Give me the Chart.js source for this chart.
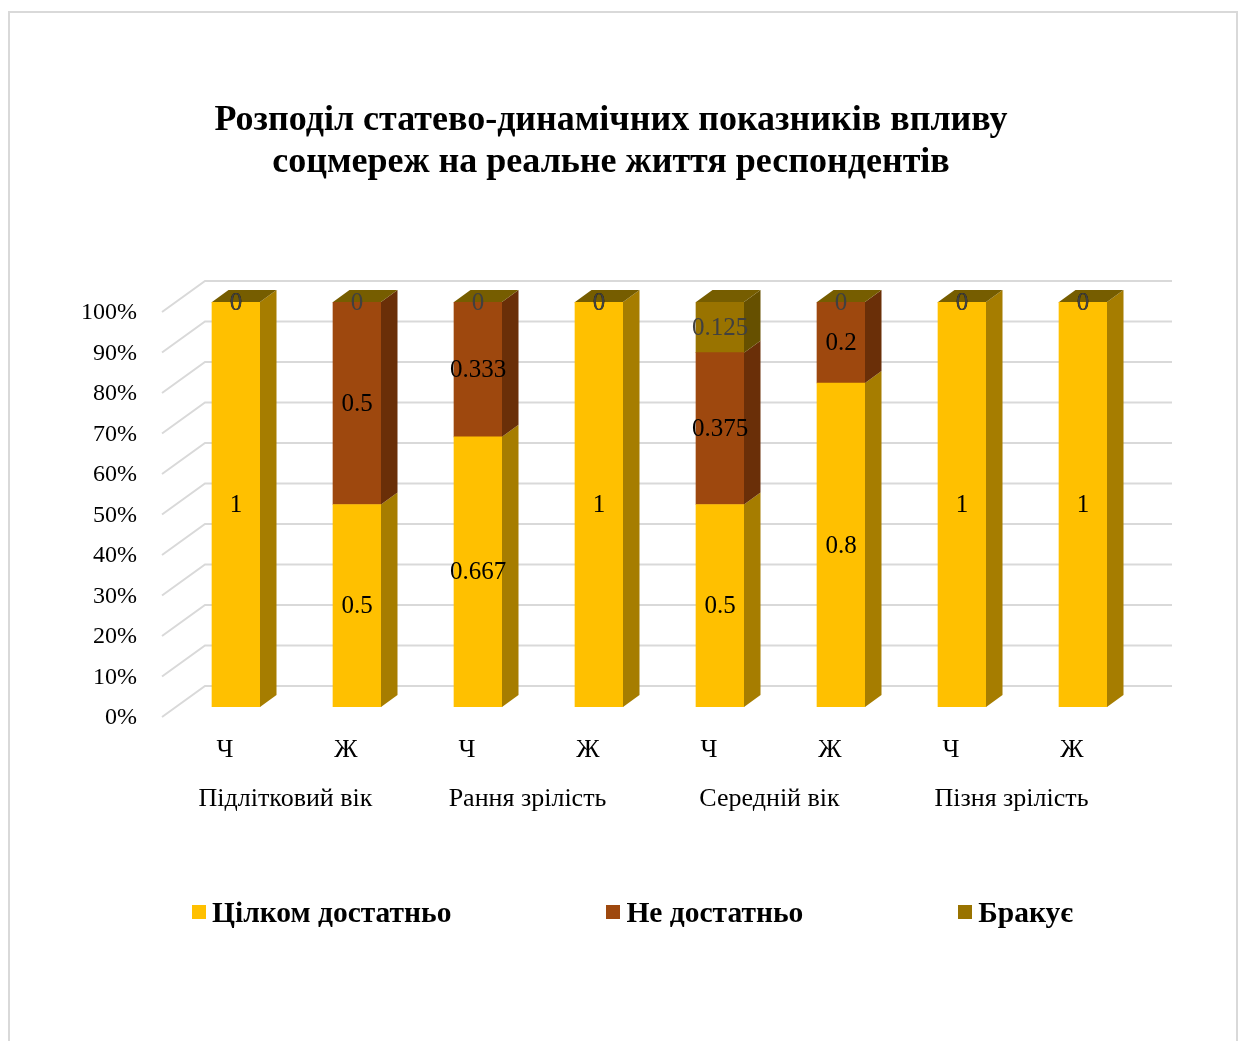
<!DOCTYPE html>
<html>
<head>
<meta charset="utf-8">
<script src="https://cdn.jsdelivr.net/npm/chart.js@4.4.0/dist/chart.umd.min.js"></script>
<style>
  html, body { margin: 0; padding: 0; background: #fff; }
  #wrap { position: relative; width: 1242px; height: 1041px; overflow: hidden; }
  #frame { position: absolute; left: 8px; top: 11px; width: 1230px; height: 1045px; border: 2px solid #d9d9d9; box-sizing: border-box; }
  canvas { position: absolute; left: 0; top: 0; }
  #legend { position: absolute; left: 192px; top: 896px; height: 32px; display: flex; align-items: center; gap: 155px;
            font-family: "Liberation Serif", "Times New Roman", serif; font-weight: bold; font-size: 29.5px; color: #000; }
  #legend .item { display: flex; align-items: center; white-space: nowrap; }
  #legend .box { width: 14px; height: 14px; margin-right: 6px; }
</style>
</head>
<body>
<div id="wrap">
  <div id="frame"></div>
  <canvas id="myChart" width="1242" height="1041"></canvas>
  <div id="legend"></div>
</div>
<script>
var groups = ['Підлітковий вік', 'Рання зрілість', 'Середній вік', 'Пізня зрілість'];
var sexes = ['Ч', 'Ж', 'Ч', 'Ж', 'Ч', 'Ж', 'Ч', 'Ж'];
var seriesNames = ['Цілком достатньо', 'Не достатньо', 'Бракує'];
var fully = [1, 0.5, 0.667, 1, 0.5, 0.8, 1, 1];
var notEnough = [0, 0.5, 0.333, 0, 0.375, 0.2, 0, 0];
var lacking = [0, 0, 0, 0, 0.125, 0, 0, 0];

var SERIF = '"Liberation Serif", "Times New Roman", serif';
var DX = 16.5, DY = -12;   // bar depth

Chart.defaults.font.family = SERIF;
Chart.defaults.color = '#000';

function poly(ctx, pts) {
  ctx.beginPath();
  ctx.moveTo(pts[0][0], pts[0][1]);
  for (var i = 1; i < pts.length; i++) ctx.lineTo(pts[i][0], pts[i][1]);
  ctx.closePath();
  ctx.fill();
}

// side wall + back wall gridlines
var walls = {
  id: 'walls',
  beforeDatasetsDraw: function(chart) {
    var ctx = chart.ctx, a = chart.chartArea, ys = chart.scales.y;
    ctx.save();
    ctx.strokeStyle = '#d9d9d9';
    ctx.lineWidth = 2;
    ys.ticks.forEach(function(t) {
      var py = ys.getPixelForValue(t.value);
      ctx.beginPath();
      ctx.moveTo(a.left - 13.5, py + 10);
      ctx.lineTo(a.left + 29.5, py - 21);
      ctx.lineTo(a.right + 28.5, py - 21);
      ctx.stroke();
    });
    ctx.restore();
  }
};

// sides, tops and value labels
var bar3d = {
  id: 'bar3d',
  afterDatasetsDraw: function(chart) {
    var ctx = chart.ctx;
    var sets = chart.data.datasets;
    var last = sets.length - 1;
    ctx.save();
    sets.forEach(function(ds, di) {
      var meta = chart.getDatasetMeta(di);
      meta.data.forEach(function(bar) {
        var l = bar.x - bar.width / 2, r = bar.x + bar.width / 2;
        if (bar.base - bar.y > 0.5) {
          ctx.fillStyle = ds.sideColor;
          poly(ctx, [[r, bar.y], [r + DX, bar.y + DY], [r + DX, bar.base + DY], [r, bar.base]]);
        }
        if (di === last) {
          ctx.fillStyle = ds.topColor;
          poly(ctx, [[l, bar.y], [r, bar.y], [r + DX, bar.y + DY], [l + DX, bar.y + DY]]);
        }
      });
    });
    ctx.font = '25px ' + SERIF;
    ctx.textAlign = 'center';
    ctx.textBaseline = 'middle';
    sets.forEach(function(ds, di) {
      var meta = chart.getDatasetMeta(di);
      ctx.fillStyle = ds.labelColor;
      meta.data.forEach(function(bar, i) {
        ctx.fillText(String(ds.data[i]), bar.x, (bar.y + bar.base) / 2 + 1);
      });
    });
    ctx.restore();
  }
};

var ctx = document.getElementById('myChart');
var myChart = new Chart(ctx, {
  type: 'bar',
  data: {
    labels: sexes,
    datasets: [
      { label: seriesNames[0], data: fully, backgroundColor: '#FFC000',
        sideColor: '#A67D00', topColor: '#7F6000', labelColor: '#000' },
      { label: seriesNames[1], data: notEnough, backgroundColor: '#9E480E',
        sideColor: '#6A2F08', topColor: '#6A2F08', labelColor: '#000' },
      { label: seriesNames[2], data: lacking, backgroundColor: '#997300',
        sideColor: '#665000', topColor: '#765D00', labelColor: '#404040' }
    ]
  },
  options: {
    responsive: false,
    animation: false,
    barThickness: 48,
    layout: { padding: { top: 0, left: 78.5, right: 98.5, bottom: 228 } },
    plugins: {
      title: {
        display: true,
        text: ['Розподіл статево-динамічних показників впливу', 'соцмереж на реальне життя респондентів'],
        color: '#000',
        font: { size: 36, weight: 'bold', lineHeight: 42 / 36 },
        padding: { top: 100, bottom: 118 }
      },
      legend: { display: false },
      tooltip: { enabled: false }
    },
    scales: {
      x: {
        stacked: true,
        grid: { display: false, drawTicks: false },
        border: { display: false },
        ticks: { font: { size: 26 }, padding: 27.4, labelOffset: -11, maxRotation: 0, autoSkip: false },
        afterFit: function(s) { s.height = 56; }
      },
      x2: {
        type: 'category',
        labels: groups,
        position: 'bottom',
        offset: true,
        bounds: 'ticks',
        grid: { display: false, drawTicks: false },
        border: { display: false },
        ticks: { font: { size: 26 }, padding: 20.4, labelOffset: -11, maxRotation: 0, autoSkip: false },
        afterFit: function(s) { s.height = 50; }
      },
      y: {
        stacked: true,
        min: 0,
        max: 1,
        grid: { display: false, drawTicks: false },
        border: { display: false },
        ticks: {
          stepSize: 0.1,
          font: { size: 24 },
          padding: 38.5,
          labelOffset: 11,
          callback: function(v) { return Math.round(v * 100) + '%'; }
        },
        afterFit: function(s) { s.width = 97; }
      }
    }
  },
  plugins: [walls, bar3d]
});

// html legend built from the chart's own legend items
var legendEl = document.getElementById('legend');
Chart.defaults.plugins.legend.labels.generateLabels(myChart).forEach(function(item) {
  var it = document.createElement('span');
  it.className = 'item';
  var box = document.createElement('span');
  box.className = 'box';
  box.style.background = item.fillStyle;
  var txt = document.createElement('span');
  txt.textContent = item.text;
  it.appendChild(box);
  it.appendChild(txt);
  legendEl.appendChild(it);
});
</script>
</body>
</html>
